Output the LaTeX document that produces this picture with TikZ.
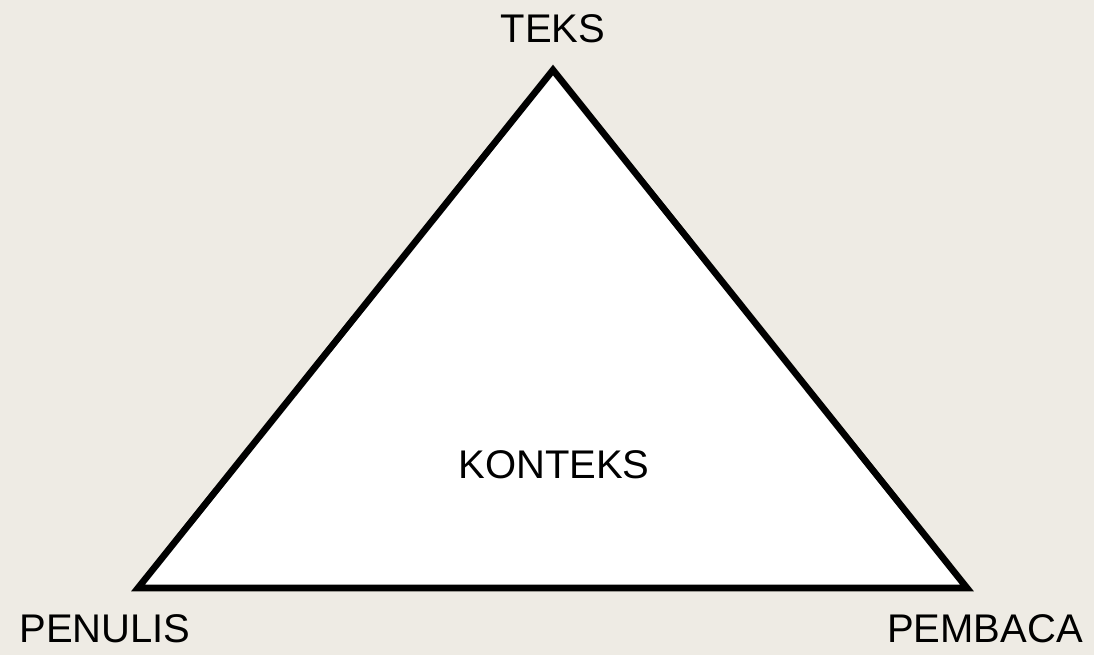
\documentclass[tikz,border=0pt]{standalone}
\usepackage{fontspec}
\setmainfont{Liberation Sans}
\definecolor{bg}{HTML}{EEEBE4}
\begin{document}
\begin{tikzpicture}[x=0.75pt,y=-0.75pt,
  lbl/.style={anchor=base,inner sep=0pt,font=\fontsize{30}{36}\selectfont},
  edge/.style={line width=5pt,line join=miter,black}]
\fill[bg] (0,0) rectangle (1094,655);
\useasboundingbox (0,0) rectangle (1094,655);
\coordinate (T) at (553,70);
\coordinate (L) at (138,588);
\coordinate (R) at (967,588);
\filldraw[edge,fill=white] (T) -- (R) -- (L) -- cycle;
\node[lbl] (teks) at (553,43) {TEKS};
\node[lbl] (konteks) at (554,478) {KONTEKS};
\node[lbl] (penulis) at (105,642) {PENULIS};
\node[lbl] (pembaca) at (985,642) {PEMBACA};
\end{tikzpicture}
\end{document}
